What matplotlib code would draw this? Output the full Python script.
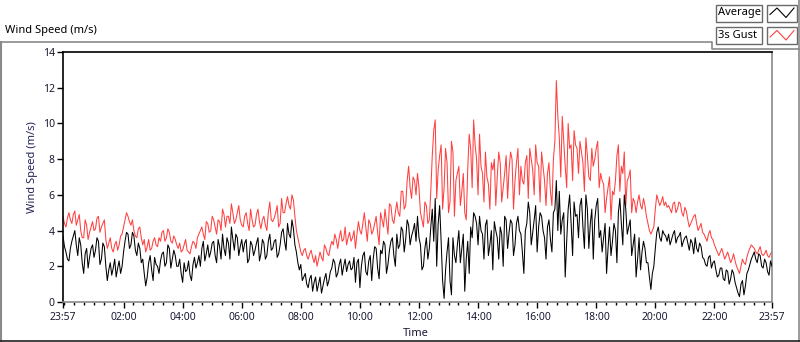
import matplotlib
matplotlib.use('Agg')
import matplotlib.pyplot as plt
import numpy as np
from matplotlib.lines import Line2D
from matplotlib.patches import Rectangle

# ---- data (m/s); "on" samples every 6 min from 23:57, "mid" samples 3 min later ----
average_on = [
    3.7, 2.8, 2.3, 3.4, 4.0,
    2.6, 3.2, 1.6, 3.0, 2.5,
    3.2, 2.9, 3.4, 2.4, 3.1,
    1.2, 2.2, 1.9, 1.4, 2.3, 2.0, 3.4,
    3.8, 3.2, 3.7, 2.6, 3.0,
    2.4, 0.9, 2.2, 1.8, 2.5, 2.0, 2.3,
    2.8, 2.2, 3.0, 2.4, 2.6,
    2.0, 1.6, 2.2, 1.8, 1.5, 2.1, 1.9,
    2.6, 3.0, 2.3, 3.2, 2.8,
    3.4, 2.2, 3.1, 3.8, 2.6, 3.3, 4.2, 2.9, 3.6, 3.1,
    2.8, 3.5, 2.4, 3.2, 2.9, 3.6, 2.7,
    3.3, 2.6, 3.8, 3.0, 3.5, 2.7, 3.9, 3.4,
    4.4, 3.6, 4.1, 2.8,
    1.8, 1.2, 1.6,
    0.8, 1.5, 1.1, 0.6, 1.4, 0.9, 1.6, 1.2,
    1.9, 2.2, 1.6, 2.4, 2.0, 1.7, 2.3,
    1.9, 1.1, 2.4, 2.0, 2.8, 1.5, 2.6,
    2.4, 3.0, 1.3, 2.7, 3.2, 2.1, 3.4, 2.6,
    3.8, 3.2, 4.0, 3.5, 4.3, 3.7, 4.4,
    4.8, 3.2, 2.0, 3.6, 3.0,
    5.2, 5.8, 4.4, 3.4,
    0.2, 2.8, 1.2, 3.6, 2.2,
    4.0, 3.0, 0.6, 3.4, 4.2,
    5.0, 4.4, 4.8,
    3.8, 4.3, 2.6, 4.0,
    4.5, 3.6, 4.2, 2.0, 4.6, 3.9, 4.4, 3.2, 4.8, 3.8,
    1.6, 4.4, 5.0, 3.9, 5.4, 4.2, 4.8, 3.6,
    4.2, 3.5, 5.0, 6.8,
    6.2, 4.6, 1.4, 5.2, 4.4, 5.6,
    4.9, 5.4, 4.2, 6.0, 3.0, 5.2, 4.6, 5.8, 4.0,
    3.6, 1.6, 4.2, 3.4, 4.0,
    5.0, 4.4, 6.0, 3.8, 4.6,
    3.2, 1.4, 3.6, 2.8, 3.0,
    2.2, 0.7, 2.0,
    3.9, 3.6, 4.0, 3.7,
    3.8, 3.5, 4.0, 3.6, 3.9, 3.4, 3.7,
    2.9, 3.3, 3.6, 2.8, 3.1,
    2.4, 2.0, 2.6, 2.2, 1.8,
    1.5, 1.9, 1.2, 1.7, 1.3, 1.6,
    0.8, 0.3, 1.2, 0.9,
    1.8, 2.4, 2.8, 2.2, 2.6,
    1.9, 2.2, 1.5, 2.0,
]
average_mid = [
    3.1, 2.4, 3.0, 3.7, 3.2,
    3.6, 2.2, 2.7, 1.9, 3.0,
    2.5, 3.6, 2.1, 3.3, 2.0,
    1.8, 1.5, 2.4, 1.9, 1.6, 2.8, 3.9,
    3.0, 3.9, 2.9, 3.3, 2.2,
    1.6, 1.4, 2.6, 1.2, 2.1, 1.6, 2.7,
    2.0, 3.2, 1.9, 2.9, 2.0,
    2.4, 1.1, 1.7, 2.3, 1.2, 2.5, 2.2,
    2.0, 3.4, 2.7, 2.5, 3.3,
    2.6, 3.5, 2.4, 3.0, 3.6, 2.4, 3.5, 3.8, 2.6, 3.5,
    3.3, 2.2, 3.4, 2.6, 3.3, 2.3, 3.5,
    2.4, 3.4, 2.9, 3.4, 2.5, 3.2, 4.1, 2.9,
    3.8, 4.6, 3.2, 2.2,
    2.1, 1.4, 1.0,
    1.3, 0.6, 1.4, 1.0, 0.5, 1.3, 0.9, 1.7,
    2.4, 1.4, 2.1, 1.5, 2.4, 2.1, 1.8,
    2.5, 2.2, 0.8, 2.6, 1.7, 2.3, 1.2,
    3.1, 1.9, 2.9, 3.4, 1.6, 2.9, 3.6, 2.0,
    3.0, 4.2, 2.8, 4.6, 3.2, 4.0, 3.4,
    3.6, 1.8, 3.0, 2.4, 4.2,
    3.4, 2.0, 5.4, 1.2,
    1.8, 3.6, 0.4, 2.6, 3.2,
    2.2, 3.8, 2.4, 1.6, 3.6,
    4.8, 3.2, 4.0,
    2.4, 4.6, 3.2, 1.8,
    4.0, 2.4, 3.8, 4.8, 3.0, 4.6, 2.6, 4.4, 4.0, 2.8,
    4.0, 5.6, 3.2, 4.6, 2.8, 5.0, 4.0, 2.4,
    4.6, 2.8, 5.2, 4.0,
    3.8, 5.0, 3.4, 6.0, 2.6, 4.8,
    3.6, 5.8, 3.0, 5.2, 4.4, 2.4, 5.4, 3.6, 2.8,
    4.4, 3.0, 2.6, 4.4, 2.2,
    5.8, 3.2, 5.2, 4.2, 2.6,
    3.8, 2.4, 1.8, 3.4, 2.2,
    1.4, 1.6, 3.0,
    4.2, 3.4, 3.8, 3.4,
    3.2, 3.8, 3.3, 3.7, 3.1, 3.6, 3.3,
    3.5, 2.7, 3.0, 3.3, 2.5,
    2.1, 2.5, 1.9, 2.3, 1.4,
    1.9, 1.3, 1.8, 1.0, 1.8, 1.1,
    0.5, 1.0, 0.4, 1.6,
    2.1, 2.6, 2.4, 2.7, 2.0,
    2.4, 1.7, 2.3,
]
gust_on = [
    4.8, 4.2, 5.0, 4.4, 5.1,
    4.6, 4.0, 3.6, 4.3, 3.9,
    4.5, 4.1, 4.8, 4.2, 4.6,
    3.0, 3.6, 2.8, 3.4, 3.2, 3.8, 4.6,
    4.8, 4.3, 4.0, 3.6, 4.2,
    3.2, 2.8, 3.5, 3.0, 3.6, 3.1, 3.4,
    4.0, 3.6, 3.9, 3.3, 3.5,
    3.0, 2.8, 3.2, 2.9, 2.7, 3.4, 3.0,
    3.8, 4.2, 3.5, 4.4, 4.0,
    4.6, 3.8, 4.5, 5.2, 4.2, 4.8, 5.5, 4.4, 5.0, 4.6,
    4.2, 5.0, 4.0, 4.6, 4.3, 5.2, 4.1,
    4.8, 4.0, 5.6, 4.5, 5.0, 4.2, 5.8, 5.0,
    5.9, 5.2, 5.7, 4.0,
    3.2, 2.6, 3.0,
    2.4, 2.9, 2.2, 2.0, 2.8, 2.3, 3.0, 2.6,
    3.4, 3.8, 3.0, 4.0, 3.5, 3.2, 3.9,
    3.6, 3.0, 4.5, 3.8, 5.0, 3.4, 4.4,
    4.0, 4.8, 3.2, 4.6, 5.2, 3.8, 5.4, 4.4,
    5.6, 4.8, 6.2, 5.4, 7.6, 5.8, 6.8,
    7.2, 5.0, 4.2, 5.4, 4.6,
    8.2, 10.2, 7.4, 8.8,
    6.4, 7.8, 5.6, 8.4, 6.8,
    7.6, 6.2, 5.0, 7.4, 8.6,
    10.2, 8.0, 9.4,
    7.2, 8.4, 6.6, 7.8,
    8.0, 7.0, 7.8, 6.4, 8.2, 7.4, 8.0, 6.8, 8.6, 7.6,
    6.6, 8.2, 8.6, 7.4, 8.8, 7.6, 8.4, 6.8,
    7.2, 6.2, 8.0, 12.4,
    9.2, 10.4, 7.6, 10.0, 8.8, 9.6,
    8.6, 9.0, 7.8, 9.2, 7.0, 8.6, 8.0, 9.0, 7.2,
    6.6, 5.8, 7.0, 6.2, 6.8,
    8.8, 7.6, 8.4, 6.8, 7.4,
    5.8, 5.0, 6.0, 5.2, 5.4,
    4.4, 3.8, 4.2,
    6.0, 5.4, 5.9, 5.6,
    5.4, 5.0, 5.6, 5.2, 5.5, 4.8, 5.1,
    4.2, 4.6, 4.9, 4.0, 4.4,
    3.8, 3.4, 4.0, 3.5, 3.0,
    2.6, 3.0, 2.4, 2.8, 2.2, 2.7,
    2.0, 1.6, 2.4, 2.1,
    2.8, 3.2, 3.0, 2.7, 3.1,
    2.6, 2.9, 2.5, 2.8,
]
gust_mid = [
    4.4, 4.7, 4.6, 4.9, 4.3,
    4.9, 3.6, 4.6, 3.5, 4.2,
    4.0, 4.7, 3.9, 4.4, 3.5,
    3.3, 3.0, 3.2, 2.9, 3.7, 4.2, 5.0,
    4.5, 4.6, 3.7, 4.1, 3.6,
    3.5, 3.1, 2.9, 3.4, 3.2, 3.6, 3.9,
    3.4, 4.1, 3.4, 3.7, 3.2,
    3.3, 2.9, 3.5, 2.8, 3.1, 3.3, 3.6,
    4.0, 3.8, 4.5, 3.9, 4.8,
    4.2, 4.6, 4.0, 4.9, 4.8, 4.4, 5.0, 4.6, 5.4, 4.3,
    4.8, 4.4, 5.2, 4.2, 4.9, 4.5, 4.6,
    4.3, 5.0, 4.6, 4.7, 5.4, 4.4, 5.0, 5.5,
    5.4, 6.0, 4.8, 3.6,
    2.8, 2.9, 2.6,
    2.7, 2.5, 2.6, 2.4, 2.5, 3.2, 2.7, 3.1,
    3.2, 3.5, 3.6, 3.4, 4.2, 3.6, 3.4,
    4.0, 3.8, 4.0, 4.4, 4.2, 4.6, 3.8,
    4.4, 3.9, 5.0, 4.2, 4.5, 5.5, 4.6, 5.0,
    5.0, 6.2, 5.2, 6.8, 6.4, 7.0, 6.0,
    6.4, 4.6, 5.6, 4.4, 6.2,
    9.6, 5.8, 8.2, 5.2,
    8.6, 5.0, 9.0, 4.8, 7.2,
    5.4, 7.2, 4.6, 9.4, 6.4,
    8.8, 6.0, 7.6,
    5.6, 7.0, 5.2, 7.4,
    5.4, 8.4, 5.6, 7.2, 5.8, 8.4, 5.2, 7.8, 6.0, 6.8,
    7.8, 5.8, 8.0, 6.0, 7.8, 5.6, 7.6, 5.4,
    7.8, 5.4, 9.0, 10.4,
    7.0, 9.0, 6.4, 8.6, 6.8, 8.8,
    7.2, 8.4, 6.2, 8.2, 6.8, 7.6, 8.6, 6.4, 6.8,
    5.0, 6.4, 4.6, 6.0, 8.2,
    6.2, 7.2, 5.4, 7.0, 5.0,
    5.6, 5.6, 5.4, 5.8, 4.8,
    4.0, 4.0, 5.2,
    5.7, 5.6, 5.4, 5.3,
    5.2, 5.5, 5.0, 5.6, 5.0, 5.3, 4.6,
    4.4, 4.8, 4.4, 4.2, 3.9,
    3.6, 3.8, 3.6, 3.2, 2.8,
    2.8, 2.7, 2.6, 2.5, 2.4, 2.3,
    1.8, 2.0, 2.2, 2.5,
    3.0, 3.1, 2.8, 2.9, 2.7,
    2.7, 2.6, 2.7,
]
series_names = ['Average', '3s Gust']
series_colors = ['#000000', '#ff4040']
span_minutes = 1440
start_label = '23:57'
hour_labels = ['02:00', '04:00', '06:00', '08:00', '10:00', '12:00',
               '14:00', '16:00', '18:00', '20:00', '22:00']
y_ticks = [0, 2, 4, 6, 8, 10, 12, 14]

W, H = 800, 342
plt.rcParams['font.family'] = ['Noto Sans', 'DejaVu Sans']
fig = plt.figure(figsize=(W / 100, H / 100), dpi=100)
fig.patch.set_facecolor('white')


def fx(x):
    return x / W


def fy(y):
    return 1 - y / H


def merge(on, mid):
    t_on = np.linspace(0, span_minutes, len(on))
    step = t_on[1] - t_on[0]
    t_mid = t_on[:len(mid)] + step / 2
    t = np.concatenate([t_on, t_mid])
    v = np.concatenate([on, mid])
    order = np.argsort(t, kind='stable')
    return t[order], v[order]


ax = fig.add_axes([fx(63), fy(302), (772 - 63) / W, (302 - 52) / H])

t_g, v_g = merge(gust_on, gust_mid)
t_a, v_a = merge(average_on, average_mid)
ax.plot(t_g, v_g, color=series_colors[1], lw=0.75, zorder=2)
ax.plot(t_a, v_a, color=series_colors[0], lw=0.75, zorder=3)

ax.set_xlim(0, span_minutes)
ax.set_ylim(0, 14)

major = [0] + [123 + 120 * k for k in range(len(hour_labels))] + [span_minutes]
labels = [start_label] + hour_labels + [start_label]
ax.set_xticks(major)
ax.set_xticklabels(labels)
minor = [3 + 20 * k for k in range(72) if (3 + 20 * k) not in major]
ax.set_xticks(minor, minor=True)
ax.set_yticks(y_ticks)
ax.set_yticklabels([str(v) for v in y_ticks])

tcol = '#1a1a33'
ax.tick_params(axis='x', which='major', length=4.5, width=1, direction='out',
               pad=2.5, labelsize=7.5, colors='#000000', labelcolor=tcol)
ax.tick_params(axis='x', which='minor', length=2.2, width=1, direction='out',
               colors='#000000')
ax.tick_params(axis='y', which='major', length=4, width=1, direction='out',
               pad=2, labelsize=7.5, colors='#000000', labelcolor=tcol)

for side in ['left', 'top']:
    ax.spines[side].set_color('#000000')
    ax.spines[side].set_linewidth(1.2)
for side in ['bottom', 'right']:
    ax.spines[side].set_color('#8a8a8a')
    ax.spines[side].set_linewidth(1.2)

fig.text(fx(32), fy(167), 'Wind Speed (m/s)', rotation=90, ha='center',
         va='center', fontsize=8, color='#23235a')
fig.text(fx(403), fy(334), 'Time', ha='left', va='center', fontsize=8,
         color=tcol)
fig.text(fx(5), fy(31), 'Wind Speed (m/s)', ha='left', va='center',
         fontsize=8, color='#000000')

frame_col = '#8a8a8a'
fig.add_artist(Line2D([fx(0.5), fx(712), fx(712), fx(798.5)],
                      [fy(42), fy(42), fy(49), fy(49)],
                      color=frame_col, lw=1.2))
fig.add_artist(Line2D([fx(0.8), fx(0.8)], [fy(42), fy(342)], color=frame_col, lw=1.5))
fig.add_artist(Line2D([fx(798.5), fx(798.5)], [fy(0), fy(342)], color=frame_col, lw=1.2))
fig.add_artist(Line2D([fx(0), fx(800)], [fy(341), fy(341)], color='#202020', lw=1.2))

for i, (name, col) in enumerate(zip(series_names, series_colors)):
    top = 4.5 + i * 22.5
    bot = top + 17
    fig.add_artist(Rectangle((fx(715.5), fy(bot)), (762 - 715.5) / W, (bot - top) / H,
                             facecolor='white', edgecolor='#6a6a6a', lw=1.0))
    fig.text(fx(718), fy((top + bot) / 2), name, ha='left', va='center',
             fontsize=8, color='#000000')
    fig.add_artist(Rectangle((fx(767), fy(bot)), (796.5 - 767) / W, (bot - top) / H,
                             facecolor='white', edgecolor='#6a6a6a', lw=1.0))
    xs = [770, 777, 786, 794]
    ys = [top + 10, top + 3.5, top + 13, top + 3.5]
    fig.add_artist(Line2D([fx(v) for v in xs], [fy(v) for v in ys], color=col, lw=0.8))

fig.savefig('out.png', dpi=100, facecolor='white')
